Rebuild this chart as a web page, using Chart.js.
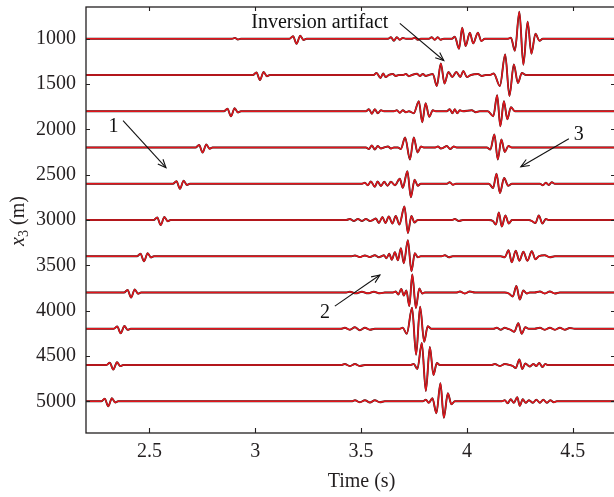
<!DOCTYPE html>
<html><head><meta charset="utf-8">
<script src="https://cdn.jsdelivr.net/npm/chart.js@4.4.0/dist/chart.umd.min.js"></script>
<style>
html,body{margin:0;padding:0;background:#fff;overflow:hidden;width:614px;height:497px}
#wrap{position:relative;width:618px;height:497px}
canvas{display:block}
</style>
</head><body><div id="wrap"><canvas id="c" width="618" height="497" style="width:618px;height:497px"></canvas></div>
<script>
// ---------- data ----------
const depths = [1000,1400,1800,2200,2600,3000,3400,3800,4200,4600,5000];
const xTickValues = [2.5,3,3.5,4,4.5];
const yTickValues = [1000,1500,2000,2500,3000,3500,4000,4500,5000];
const timeRange = [2.2,4.7];
const depthRange = [650,5350];

// direct arrival (first event on each trace): arrival time and amplitude
const directArrival = [3.195,3.022,2.885,2.751,2.644,2.553,2.474,2.413,2.364,2.329,2.305];
const directAmp = [5,5,5,5,5,5,5,5,4.5,4.5,5];
const directShape = [[-0.033,0],[-0.0165,0.5],[0,-1],[0.0175,0.6],[0.033,-0.25],[0.047,0]];

// later wiggles on each trace: [time (s), amplitude]
const trace1000 = [[2.890,0],[2.904,0.8],[2.918,-0.8],[2.932,0],
 [3.627,0],[3.641,1.5],[3.655,-2],[3.669,1.5],[3.683,-1],[3.697,0.7],[3.712,0],
 [3.740,0],[3.754,1],[3.768,-1],[3.782,0],
 [3.820,0],[3.834,1.5],[3.848,-1],[3.862,1.5],[3.876,-1],[3.891,0],
 [3.929,0],[3.943,2],[3.963,-10],[3.978,11],[3.994,-7.4],[4.014,6],[4.030,-4.7],[4.052,6],[4.068,-2.3],[4.085,0],
 [4.194,0],[4.208,1],[4.227,-12],[4.248,27],[4.267,-26],[4.287,17],[4.305,-15],[4.324,5],[4.343,-2],[4.359,0]];
const trace1400 = [[3.560,0],[3.573,2],[3.592,-3],[3.604,1.5],[3.616,-2],[3.631,0],
 [3.650,1],[3.664,-1],[3.679,0],[3.698,0],[3.712,1],[3.726,-1.2],[3.740,0],
 [3.764,1.2],[3.778,-1],[3.792,1],[3.806,-1],[3.820,0],
 [3.839,1],[3.858,-11],[3.877,11.5],[3.894,-8.5],[3.913,3],[3.931,-2],[3.950,3],[3.969,-2],[3.983,4],[4.000,-2],[4.019,0],
 [4.052,1],[4.071,-1],[4.090,0],
 [4.108,0],[4.127,1.5],[4.156,-11],[4.181,20.5],[4.201,-21],[4.222,10.5],[4.241,-8],[4.260,2],[4.279,0]];
const trace1800 = [[3.523,0],[3.537,2],[3.551,-2.5],[3.565,2],[3.579,-2],[3.594,1],[3.608,0],
 [3.655,0],[3.669,1],[3.683,-1.5],[3.697,1],[3.712,-1],[3.726,0],
 [3.749,-2],[3.773,10],[3.789,-11],[3.805,8],[3.822,-5.5],[3.839,1],[3.853,0],
 [3.905,0],[3.919,2],[3.932,-2],[3.943,2],[3.954,-2],[3.967,1],[3.981,0],
 [4.023,1],[4.042,-1],[4.061,0],
 [4.099,0],[4.125,-5],[4.143,16],[4.158,-15],[4.175,10],[4.191,-8],[4.208,4],[4.227,0]];
const trace2200 = [[3.523,0],[3.537,-1.5],[3.551,2],[3.565,-2],[3.579,1.5],[3.594,-1],[3.608,0],
 [3.627,1],[3.641,-1],[3.655,0],
 [3.674,0],[3.688,-1.5],[3.708,10],[3.731,-12],[3.749,10],[3.767,-5],[3.783,1],[3.797,0],
 [3.850,0],[3.863,1],[3.877,-1],[3.891,0],[3.905,1.5],[3.921,-1.5],[3.938,1],[3.952,0],
 [4.094,0],[4.111,-2],[4.130,13],[4.146,-12],[4.163,8],[4.179,-4.5],[4.196,1.5],[4.213,0]];
const trace2600 = [[3.504,0],[3.518,1],[3.532,-1.5],[3.546,2.3],[3.565,-3],[3.578,2.3],[3.594,-2.3],[3.609,2],[3.625,-2],[3.641,2],[3.660,-1.5],
 [3.683,5],[3.697,-4],[3.719,12.5],[3.735,-13.5],[3.753,4],[3.768,-2],[3.782,0],
 [3.905,0],[3.919,1.5],[3.934,-1],[3.948,0],
 [4.104,0],[4.124,-4.3],[4.140,10],[4.156,-9.3],[4.176,5.7],[4.195,-2],[4.213,0],
 [4.345,0],[4.359,-1.5],[4.373,1],[4.387,-1.2],[4.401,1.5],[4.416,0]];
const trace3000 = [[3.430,0],[3.447,1],[3.466,-1],[3.485,1],[3.504,-1],[3.523,1],[3.542,-1],[3.556,0],
 [3.570,1.5],[3.584,-3],[3.601,3],[3.615,-3],[3.631,3.5],[3.648,-3.5],[3.664,4],[3.681,-4.5],[3.705,13.5],[3.721,-13],[3.738,4],[3.752,-2.5],[3.768,0],
 [3.930,0],[3.943,1],[3.962,-1],[3.981,0],
 [4.104,0],[4.123,-1],[4.137,-4.5],[4.151,7.5],[4.165,-6.5],[4.182,4.5],[4.198,-3.5],[4.213,0],
 [4.293,0],[4.307,-1],[4.324,-3],[4.340,4.5],[4.357,-3.5],[4.373,1],[4.387,0]];
const trace3400 = [[3.455,0],[3.471,0.8],[3.494,-0.8],[3.518,0.8],[3.542,-0.8],[3.565,1],[3.584,-1],[3.596,0],
 [3.608,1],[3.620,-2],[3.633,2.5],[3.645,-3.5],[3.660,4],[3.674,-4],[3.688,8],[3.702,-7],[3.721,16],[3.738,-15],[3.754,3],[3.768,-1],[3.782,0],
 [3.880,0],[3.896,1],[3.915,-1],[3.933,0],
 [4.160,0],[4.179,-1],[4.197,6],[4.212,-6],[4.231,5.5],[4.248,-4.5],[4.267,4.5],[4.286,-4.5],[4.307,5],[4.324,-3],[4.340,0],
 [4.368,1],[4.392,-1],[4.416,0]];
const trace3800 = [[3.430,0],[3.447,0.8],[3.475,-0.8],[3.504,0.8],[3.532,-0.8],[3.560,0.8],[3.589,-0.8],[3.612,0],
 [3.650,0],[3.664,1],[3.676,-2],[3.690,3.5],[3.702,-3],[3.714,2],[3.728,-13.5],[3.742,18],[3.759,-15.5],[3.775,4],[3.789,-1],[3.801,0],
 [3.950,0],[3.967,1],[3.990,-1],[4.014,1],[4.038,0],
 [4.179,0],[4.198,-1],[4.217,-4],[4.234,6.5],[4.250,-7],[4.267,2],[4.283,-1],[4.297,0],
 [4.320,0],[4.345,1],[4.368,-1],[4.392,1],[4.416,-1],[4.439,0]];
const trace4200 = [[3.405,0],[3.423,1],[3.447,-1],[3.471,1.5],[3.494,-1.5],[3.518,1],[3.542,-1],[3.565,0],
 [3.683,0],[3.697,1],[3.716,-5],[3.741,21],[3.760,-26],[3.779,22],[3.798,-13],[3.815,2.5],[3.832,0],
 [4.125,0],[4.141,1],[4.160,-1],[4.179,1],[4.193,0],
 [4.207,-1],[4.224,-3],[4.243,5.5],[4.259,-5],[4.276,1.5],[4.293,0],
 [4.320,0],[4.345,1],[4.368,-1],[4.392,1],[4.416,-1],[4.439,1],[4.463,-1],[4.486,0.8],[4.510,0]];
const trace4600 = [[3.405,0],[3.423,1],[3.447,-1],[3.471,1],[3.494,-1],[3.518,0],
 [3.731,0],[3.749,1],[3.766,-4],[3.787,22],[3.806,-26],[3.825,18],[3.842,-10],[3.858,2],[3.872,0],
 [4.115,0],[4.132,1],[4.156,-1],[4.179,1],[4.203,0],
 [4.217,-1],[4.231,-3],[4.248,5.5],[4.262,-4],[4.276,1.5],[4.297,-1.5],[4.314,1],[4.328,-1],[4.342,2],[4.357,-2],[4.371,1],[4.382,0]];
const trace5000 = [[3.455,0],[3.471,1],[3.494,-1],[3.518,1],[3.542,-1.2],[3.565,1],[3.589,-1],[3.612,0],
 [3.792,0],[3.806,1.5],[3.820,-1.5],[3.837,3],[3.856,-12],[3.875,18],[3.891,-16.5],[3.910,8],[3.927,-3],[3.943,0],
 [4.165,0],[4.179,1],[4.193,-2],[4.207,2],[4.222,-1.5],[4.238,4],[4.250,-4.5],[4.264,2],[4.278,-1.5],[4.293,1],[4.312,-1.5],[4.328,1.5],[4.345,-1.5],[4.361,1.5],[4.378,-1.5],[4.394,1],[4.411,-1],[4.425,0]];
const traces = [trace1000,trace1400,trace1800,trace2200,trace2600,trace3000,trace3400,trace3800,trace4200,trace4600,trace5000];

// annotations (data coordinates: time, depth)
const annotationLabels = [
  {text:'Inversion artifact', t:3.305, d:880},
  {text:'1', t:2.330, d:2025},
  {text:'2', t:3.329, d:4086},
  {text:'3', t:4.529, d:2114}
];
const annotationArrows = [
  {from:[3.683,831], to:[3.891,1240]},
  {from:[2.375,1904], to:[2.578,2423]},
  {from:[3.376,3950], to:[3.589,3607]},
  {from:[4.482,2104], to:[4.255,2412]}
];

// ---------- styling ----------
const GAIN = 11.03;        // metres of depth axis per amplitude unit
const FONT = "'Liberation Serif', 'Times New Roman', serif";
const INK = '#231f20';
const OBS_COLOR = '#222222';
const INV_COLOR = '#e3141b';

function buildTrace(i){
  const pts = [[timeRange[0],0],[timeRange[1],0]];
  directShape.forEach(([dt,r]) => pts.push([directArrival[i]+dt, r*directAmp[i]]));
  traces[i].forEach(p => pts.push(p));
  pts.sort((a,b) => a[0]-b[0]);
  return pts.map(([t,a]) => ({x:t, y:depths[i] - a*GAIN}));
}

const datasets = [];
depths.forEach((d,i) => {
  const pts = buildTrace(i);
  datasets.push({label:'observed '+d, data:pts, borderColor:OBS_COLOR, borderWidth:1.9, pointRadius:0,
    cubicInterpolationMode:'monotone', order:2, fill:false});
  datasets.push({label:'inverted '+d, data:pts.map(p=>({x:p.x,y:p.y})), borderColor:INV_COLOR, borderWidth:1.5, pointRadius:0,
    cubicInterpolationMode:'monotone', order:1, fill:false});
});

function arrow(ctx,x1,y1,x2,y2){
  ctx.beginPath(); ctx.moveTo(x1,y1); ctx.lineTo(x2,y2); ctx.stroke();
  const a = Math.atan2(y2-y1,x2-x1), L = 9, w = 0.4;
  ctx.beginPath();
  ctx.moveTo(x2 - L*Math.cos(a-w), y2 - L*Math.sin(a-w));
  ctx.lineTo(x2,y2);
  ctx.lineTo(x2 - L*Math.cos(a+w), y2 - L*Math.sin(a+w));
  ctx.stroke();
}

const framePlugin = {
  id:'frame',
  afterDatasetsDraw(chart){
    const {ctx, chartArea:ca, scales:{x, y}} = chart;
    ctx.save();
    ctx.strokeStyle = INK; ctx.lineWidth = 1.3;
    ctx.strokeRect(ca.left, ca.top, ca.right-ca.left, ca.bottom-ca.top);
    ctx.lineWidth = 1.1;
    ctx.beginPath();
    yTickValues.forEach(v => {
      const py = Math.round(y.getPixelForValue(v))+0.5;
      ctx.moveTo(ca.left, py); ctx.lineTo(ca.left+4, py);
      ctx.moveTo(ca.right, py); ctx.lineTo(ca.right-4, py);
    });
    xTickValues.forEach(v => {
      const px = Math.round(x.getPixelForValue(v))+0.5;
      ctx.moveTo(px, ca.top); ctx.lineTo(px, ca.top+4);
      ctx.moveTo(px, ca.bottom); ctx.lineTo(px, ca.bottom-5);
    });
    ctx.stroke();

    // annotations
    ctx.fillStyle = '#111'; ctx.strokeStyle = '#111'; ctx.lineWidth = 1.1;
    ctx.font = '20px ' + FONT; ctx.textAlign = 'center'; ctx.textBaseline = 'alphabetic';
    annotationLabels.forEach(l => ctx.fillText(l.text, x.getPixelForValue(l.t), y.getPixelForValue(l.d)));
    annotationArrows.forEach(a => arrow(ctx,
      x.getPixelForValue(a.from[0]), y.getPixelForValue(a.from[1]),
      x.getPixelForValue(a.to[0]), y.getPixelForValue(a.to[1])));

    // axis titles
    ctx.fillStyle = INK;
    ctx.font = '20px ' + FONT; ctx.textAlign = 'center';
    ctx.fillText('Time (s)', (ca.left+ca.right)/2 + 11, 486.5);

    const cy = (ca.top+ca.bottom)/2 + 1;
    ctx.translate(24, cy); ctx.rotate(-Math.PI/2);
    ctx.textAlign = 'left';
    const fIt = 'italic 20px ' + FONT, fSub = '14px ' + FONT, fReg = '20px ' + FONT;
    ctx.font = fIt; const w1 = ctx.measureText('x').width;
    ctx.font = fSub; const w2 = ctx.measureText('3').width;
    ctx.font = fReg; const w3 = ctx.measureText(' (m)').width;
    let sx = -(w1+w2+w3)/2;
    ctx.font = fIt; ctx.fillText('x', sx, 0); sx += w1;
    ctx.font = fSub; ctx.fillText('3', sx, 4); sx += w2;
    ctx.font = fReg; ctx.fillText(' (m)', sx, 0);
    ctx.restore();
  }
};

Chart.defaults.font.family = FONT;
Chart.defaults.font.size = 20;
Chart.defaults.color = INK;

new Chart(document.getElementById('c'), {
  type:'line',
  data:{datasets},
  options:{
    responsive:false, animation:false, devicePixelRatio:1,
    parsing:false, normalized:true,
    layout:{padding:{top:7, right:3, left:0, bottom:0}},
    plugins:{legend:{display:false}, tooltip:{enabled:false}},
    elements:{line:{borderCapStyle:'round', borderJoinStyle:'round'}},
    scales:{
      x:{type:'linear', min:timeRange[0], max:timeRange[1],
        grid:{display:false, drawTicks:false}, border:{display:false},
        afterBuildTicks(s){ s.ticks = xTickValues.map(v=>({value:v})); },
        afterFit(s){ s.height = 64; s.paddingLeft = 0; s.paddingRight = 0; },
        ticks:{padding:7, maxRotation:0, autoSkip:false, color:INK, font:{size:20, family:FONT},
          callback:v=>String(v)}},
      y:{type:'linear', reverse:true, min:depthRange[0], max:depthRange[1],
        grid:{display:false, drawTicks:false}, border:{display:false},
        afterBuildTicks(s){ s.ticks = yTickValues.map(v=>({value:v})); },
        afterFit(s){ s.width = 86; s.paddingTop = 0; s.paddingBottom = 0; },
        ticks:{padding:10, autoSkip:false, color:INK, font:{size:20, family:FONT},
          callback:v=>String(v)}}
    }
  },
  plugins:[framePlugin]
});
</script></body></html>
